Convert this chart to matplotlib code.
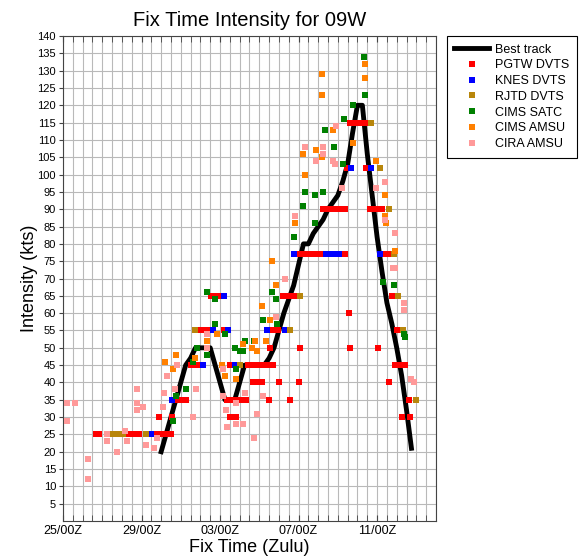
import matplotlib
matplotlib.use("Agg")
import matplotlib.pyplot as plt
import numpy as np

plt.rcParams['font.family'] = ['Liberation Sans', 'DejaVu Sans']

# hours since 25/00Z
tick_hours = [0, 96, 192, 288, 384]
tick_labels = ["25/00Z", "29/00Z", "03/00Z", "07/00Z", "11/00Z"]

best_h = [120, 126, 132, 138, 144, 150, 156, 162, 168, 174, 180, 186, 192, 198, 204, 210,
          216, 222, 228, 234, 240, 246, 252, 258, 264, 270, 276, 282, 288, 294, 300, 306,
          312, 318, 324, 330, 336, 342, 348, 354, 360, 366, 372, 378, 384, 390, 396, 402,
          408, 414, 420, 426]
best_kt = [20, 25, 30, 35, 40, 45, 47, 50, 50, 50, 50, 45, 40, 35, 35, 35,
           40, 45, 45, 45, 45, 45, 47, 50, 55, 60, 64, 68, 74, 80, 80, 83,
           85, 87, 90, 92, 94, 98, 103, 112, 120, 120, 106, 94, 82, 72, 63, 57,
           50, 42, 32, 21]

pgtw_h = [40, 44, 81, 87, 93, 114, 120, 126, 132, 117, 133, 139, 145, 151,
          157, 162, 166, 164, 169, 174, 178, 197, 181, 187, 192,
          204, 226, 232, 238, 244, 250, 257, 200, 206, 212, 218, 224, 252, 277,
          204, 212, 232, 238, 243, 264, 289, 253, 290, 269, 274, 279, 284,
          257, 263, 290, 296, 302, 308, 314, 345, 394, 399,
          318, 324, 330, 336, 342, 345, 375, 381, 387, 390, 347, 371,
          351, 357, 363, 369, 350, 351, 385, 402, 408, 406, 412, 418, 398, 423, 414, 424]
pgtw_kt = [25, 25, 25, 25, 25, 25, 25, 25, 25, 30, 30, 35, 35, 35,
           45, 45, 45, 50, 55, 55, 55, 55, 65, 65, 65,
           45, 45, 45, 45, 45, 45, 45, 35, 35, 35, 35, 35, 35, 35,
           30, 30, 40, 40, 40, 40, 40, 50, 50, 65, 65, 65, 65,
           55, 55, 77, 77, 77, 77, 77, 77, 77, 77,
           90, 90, 90, 90, 90, 90, 90, 90, 90, 90, 102, 102,
           115, 115, 115, 115, 60, 50, 50, 65, 55, 45, 45, 45, 40, 35, 30, 30]

knes_h = [108, 133, 171, 183, 202, 197, 210, 249, 271, 282, 322, 328, 334, 337, 388, 352, 376]
knes_kt = [25, 35, 45, 55, 55, 65, 45, 55, 55, 77, 77, 77, 77, 77, 77, 102, 102]

rjtd_h = [61, 67, 73, 101, 161, 216, 277, 290, 377, 388, 398, 405, 410, 416, 432]
rjtd_kt = [25, 25, 25, 25, 55, 45, 55, 65, 115, 102, 90, 77, 65, 55, 35]

satc_h = [135, 138, 151, 159, 164, 176, 186, 198, 176, 186, 210, 216, 220, 222, 234,
          212, 244, 256, 260, 262, 283, 294, 296, 308, 318, 308, 320, 331, 342, 344,
          354, 368, 369, 391, 405, 417, 418]
satc_kt = [29, 36, 38, 46, 50, 48, 57, 54, 66, 64, 50, 49, 49, 52, 52,
           44, 58, 66, 64, 57, 82, 91, 95, 94, 95, 86, 113, 108, 103, 116,
           120, 134, 123, 69, 68, 54, 53]

amsu_h = [125, 138, 135, 161, 176, 188, 195, 198, 212, 220, 231, 235, 237, 248, 243,
          261, 256, 253, 284, 294, 296, 309, 317, 330, 317, 317, 354, 369, 369, 383,
          394, 394, 395, 406]
amsu_kt = [46, 48, 44, 47, 52, 54, 45, 42, 41, 51, 50, 52, 49, 52, 62,
           68, 75, 58, 86, 106, 100, 107, 105, 113, 129, 123, 109, 132, 128, 104,
           94, 88, 86, 78]

cira_h = [5, 15, 5, 31, 31, 54, 54, 66, 76, 78, 90, 90, 90, 98, 102, 111, 115,
          123, 127, 122, 137, 139, 159, 163, 176, 176, 196, 196, 199, 200, 211, 212,
          220, 223, 233, 237, 244, 260, 271, 284, 296, 318, 318, 309, 330, 333, 334,
          341, 383, 394, 394, 406, 404, 406, 417, 417, 426, 429]
cira_kt = [34, 34, 29, 18, 12, 25, 23, 20, 26, 23, 38, 34, 32, 33, 22, 21, 24,
           37, 42, 33, 38, 45, 30, 38, 54, 50, 36, 44, 32, 27, 28, 34,
           28, 37, 24, 31, 36, 59, 70, 88, 108, 108, 106, 104, 104, 103, 114,
           96, 96, 98, 87, 83, 73, 73, 63, 61, 41, 40]

sources = [
    ("PGTW DVTS", pgtw_h, pgtw_kt, "#ff0000"),
    ("KNES DVTS", knes_h, knes_kt, "#0000ff"),
    ("RJTD DVTS", rjtd_h, rjtd_kt, "#b8860b"),
    ("CIMS SATC", satc_h, satc_kt, "#008000"),
    ("CIMS AMSU", amsu_h, amsu_kt, "#ff8000"),
    ("CIRA AMSU", cira_h, cira_kt, "#ff9999"),
]

fig = plt.figure(figsize=(5.81, 5.60), dpi=100)
ax = fig.add_axes([0.1084, 0.0696, 0.642, 0.8661])

ax.plot(best_h, best_kt, color="black", lw=3.5, label="Best track", zorder=3,
        solid_joinstyle="round")
for name, h, kt, col in sources:
    ax.plot(h, kt, ls="", marker="s", ms=4.6, mew=0, color=col, label=name, zorder=4)

ax.set_xlim(0, 456)
ax.set_ylim(0, 140)
ax.set_xticks(tick_hours)
ax.set_xticklabels(tick_labels, fontsize=9)
ax.set_xticks(np.arange(0, 457, 12), minor=True)
ax.set_yticks(np.arange(5, 141, 5))
ax.tick_params(axis="y", labelsize=8, direction="out", length=3, pad=2, color="#444444")
ax.tick_params(axis="x", which="both", direction="in", length=4, pad=3,
               top=True, color="#444444")
ax.grid(True, which="both", color="#b9b9b9", lw=0.8)
ax.set_axisbelow(True)
for s in ax.spines.values():
    s.set_color("#444444")
    s.set_linewidth(0.8)

ax.set_title("Fix Time Intensity for 09W", fontsize=14.5, pad=7)
ax.set_xlabel("Fix Time (Zulu)", fontsize=13, labelpad=1)
ax.set_ylabel("Intensity (kts)", fontsize=13)
ax.yaxis.set_label_coords(-0.066, 0.5)

leg = ax.legend(loc="upper left", bbox_to_anchor=(0.769, 0.9357),
                bbox_transform=fig.transFigure, borderaxespad=0, fontsize=9,
                numpoints=1, handlelength=2.8, handletextpad=0.45,
                labelspacing=0.3, borderpad=0.6, fancybox=False,
                edgecolor="black", framealpha=1)
leg.get_frame().set_linewidth(0.8)

fig.savefig("out.png", dpi=100)
